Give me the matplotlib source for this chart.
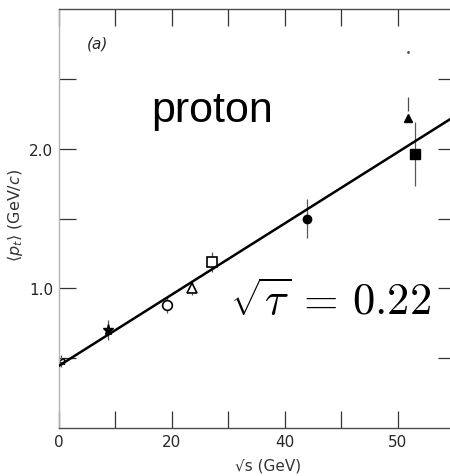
import numpy as np
import matplotlib.pyplot as plt

# <p_t> of protons versus sqrt(s), straight-line fit
sqs_star, pt_star, err_star = [8.7], [0.70], [0.07]
sqs_lo, pt_lo, err_lo = [0.3], [0.48], [0.04]
sqs_oc, pt_oc, err_oc = [19.1], [0.88], [0.06]
sqs_ot, pt_ot, err_ot = [23.5], [1.00], [0.05]
sqs_os, pt_os, err_os = [27.1], [1.19], [0.07]
sqs_fc, pt_fc, err_fc = [43.9], [1.50], [0.14]
sqs_ft, pt_ft = [61.8], [2.22]
sqs_fs, pt_fs, err_fs = [63.0], [1.96], [0.23]

fit_a, fit_b = 0.446, 0.0255

xticks = [0, 10, 20, 30, 40, 50, 60]
xticklabels = ['0', '', '20', '', '40', '', '50']
yticks = [0.5, 1.0, 1.5, 2.0, 2.5]
yticklabels = ['', '1.0', '', '2.0', '']

fig = plt.figure(figsize=(4.5, 4.77), dpi=100)
ax = fig.add_axes([0.131, 0.1006, 0.879, 0.8784])
ax.set_xlim(0, 70)
ax.set_ylim(0, 3.0)

xp = np.linspace(0, 70, 50)
ax.plot(xp, fit_a + fit_b*xp, 'k', lw=1.8, zorder=3)

ek = dict(ecolor='0.35', elinewidth=0.9, capsize=0, zorder=2)
ax.errorbar(sqs_star, pt_star, yerr=err_star, fmt='*', ms=8, mfc='k', mec='k', **ek)
ax.errorbar(sqs_lo, pt_lo, yerr=err_lo, fmt='<', ms=5, mfc='w', mec='k', **ek)
ax.errorbar(sqs_oc, pt_oc, yerr=err_oc, fmt='o', ms=7, mfc='w', mec='k', mew=1.2, **ek)
ax.errorbar(sqs_ot, pt_ot, yerr=err_ot, fmt='^', ms=7, mfc='w', mec='k', mew=1.2, **ek)
ax.errorbar(sqs_os, pt_os, yerr=err_os, fmt='s', ms=7, mfc='w', mec='k', mew=1.2, **ek)
ax.errorbar(sqs_fc, pt_fc, yerr=err_fc, fmt='o', ms=6, mfc='k', mec='k', **ek)
ax.errorbar(sqs_fs, pt_fs, yerr=err_fs, fmt='s', ms=7, mfc='k', mec='k', **ek)
ax.plot(sqs_ft, pt_ft, '^', ms=6, color='k', zorder=3)
# broken upward error on the filled triangle
ax.vlines(sqs_ft, [pt_ft[0] + 0.05], [pt_ft[0] + 0.15], color='0.3', lw=0.9)
ax.plot(sqs_ft, [pt_ft[0] + 0.47], '.', ms=2, color='0.3')

ax.set_xticks(xticks)
ax.set_xticklabels(xticklabels)
ax.set_yticks(yticks)
ax.set_yticklabels(yticklabels)
ax.tick_params(direction='in', length=12, width=0.9, color='0.2', labelsize=11,
               labelcolor='0.15', top=True, right=True, pad=4)
for s in ax.spines.values():
    s.set_color('0.3')
    s.set_linewidth(1.0)
ax.spines['left'].set_color('0.7')

ax.set_ylabel(r'$\langle p_t\rangle$ (GeV/$c$)', fontsize=11.5, color='0.2')
ax.yaxis.set_label_coords(-0.086, 0.51)
ax.set_xlabel('√s (GeV)', fontsize=11, color='0.2')
ax.xaxis.set_label_coords(0.528, -0.070)

ax.text(5.0, 2.76, '(a)', fontsize=11, style='italic', color='0.15', va='center')
ax.text(16.3, 2.2, 'proton', fontsize=31, family='Liberation Sans', va='baseline')
ax.text(30.3, 0.82, r'$\sqrt{\tau}\,=\,0.22$', fontsize=32, math_fontfamily='cm', va='baseline')

fig.savefig('out.png', dpi=100)
